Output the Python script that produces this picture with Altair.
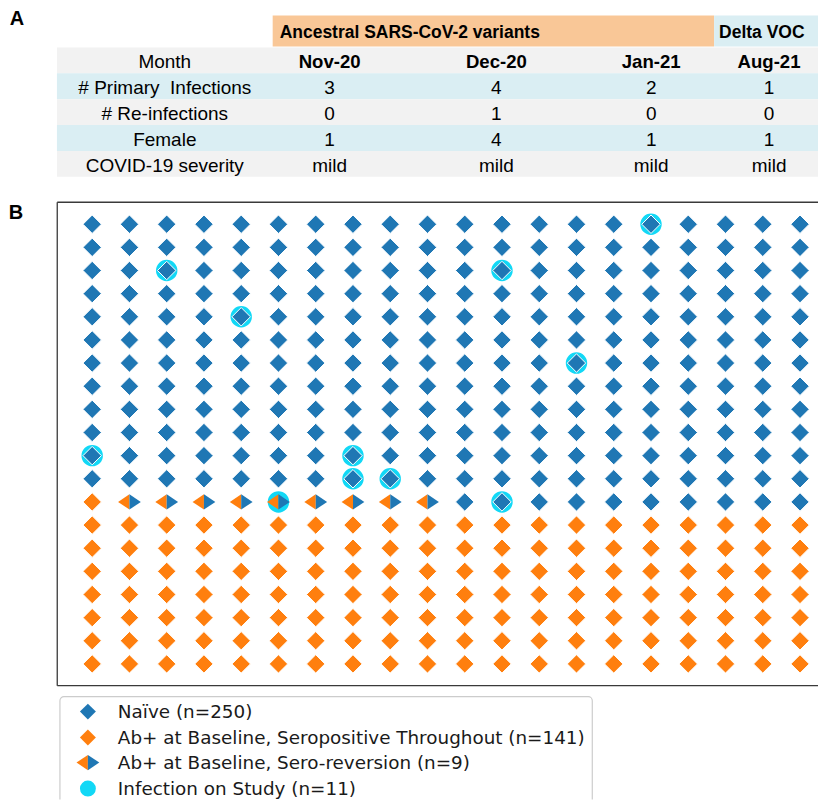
import altair as alt
import pandas as pd

# ---------------- data ----------------
variant_groups = ["Ancestral SARS-CoV-2 variants", "Delta VOC"]
row_labels = ["Month", "# Primary\u00a0 Infections", "# Re-infections", "Female", "COVID-19 severity"]
months = ["Nov-20", "Dec-20", "Jan-21", "Aug-21"]
primary_infections = [3, 4, 2, 1]
re_infections = [0, 1, 0, 0]
female = [1, 4, 1, 1]
severity = ["mild", "mild", "mild", "mild"]

# N = naive, P = Ab+ seropositive throughout, R = Ab+ sero-reversion
grid_rows = (["N" * 20] * 12
             + ["P" + "R" * 9 + "N" * 10]
             + ["P" * 20] * 7)
infections = [(0, 15), (2, 2), (2, 11), (4, 4), (6, 13), (10, 0), (10, 7),
              (11, 7), (11, 8), (12, 5), (12, 11)]

legend_labels = ["Naïve (n=250)",
                 "Ab+ at Baseline, Seropositive Throughout (n=141)",
                 "Ab+ at Baseline, Sero-reversion (n=9)",
                 "Infection on Study (n=11)"]
panel_labels = ["A", "B"]

# ---------------- style / layout ----------------
BLUE = "#1f77b4"
ORANGE = "#ff7f0e"
CYAN = "#12d8f6"
PEACH = "#f9c797"
LIGHTBLUE = "#daeef3"
GRAY = "#f2f2f2"
TFONT = "Liberation Sans"
LFONT = "DejaVu Sans"

W = 811
TABLE_H, GRID_H, LEG_H = 182, 500, 110

col_x = [157, 322, 489, 644, 762]
row_top, row_h = 39, 25.9
header_top, header_bot = 7, 38
group_spans = [(265, 707), (707, W)]
group_text_x = [272, 712]
table_left = 49

LEFT_HALF = "M -1.2 0 L 0 -0.8 L 0 0.8 Z"
RIGHT_HALF = "M 1.2 0 L 0 -0.8 L 0 0.8 Z"

# ---------------- table (panel A) ----------------
tx = alt.Scale(domain=[0, W], nice=False, zero=False)
ty = alt.Scale(domain=[0, TABLE_H], nice=False, zero=False, reverse=True)

bg = []
for i, (a, b) in enumerate(group_spans):
    bg.append(dict(x=a, x2=b, y=header_top, y2=header_bot, fill=[PEACH, LIGHTBLUE][i]))
for i in range(len(row_labels)):
    bg.append(dict(x=table_left, x2=W, y=row_top + row_h * i, y2=row_top + row_h * (i + 1),
                   fill=[GRAY, LIGHTBLUE][i % 2]))
bg = pd.DataFrame(bg)

rect_layer = alt.Chart(bg).mark_rect().encode(
    x=alt.X("x:Q", scale=tx, axis=None), x2="x2:Q",
    y=alt.Y("y:Q", scale=ty, axis=None), y2="y2:Q",
    color=alt.Color("fill:N", scale=None),
)

head = pd.DataFrame(dict(x=group_text_x, y=[(header_top + header_bot) / 2] * 2, text=variant_groups))
head_layer = alt.Chart(head).mark_text(align="left", baseline="middle", dy=2.5, font=TFONT,
                                       fontSize=17.5, fontWeight="bold", color="black").encode(
    x=alt.X("x:Q", scale=tx, axis=None), y=alt.Y("y:Q", scale=ty, axis=None), text="text:N")

cells = []
values = [months, primary_infections, re_infections, female, severity]
for i, lab in enumerate(row_labels):
    yc = row_top + row_h * (i + 0.5)
    cells.append(dict(x=col_x[0], y=yc, text=lab, bold=False))
    for j, v in enumerate(values[i]):
        cells.append(dict(x=col_x[j + 1], y=yc, text=str(v), bold=(i == 0)))
cells = pd.DataFrame(cells)

cell_plain = alt.Chart(cells[~cells.bold]).mark_text(
    align="center", baseline="middle", dy=2, font=TFONT, fontSize=19, color="black").encode(
    x=alt.X("x:Q", scale=tx, axis=None), y=alt.Y("y:Q", scale=ty, axis=None), text="text:N")
cell_bold = alt.Chart(cells[cells.bold]).mark_text(
    align="center", baseline="middle", dy=2, font=TFONT, fontSize=18.6, fontWeight="bold",
    color="black").encode(
    x=alt.X("x:Q", scale=tx, axis=None), y=alt.Y("y:Q", scale=ty, axis=None), text="text:N")

label_a = alt.Chart(pd.DataFrame(dict(t=[panel_labels[0]]))).mark_text(
    align="center", baseline="alphabetic", font=TFONT, fontSize=20, fontWeight="bold",
    color="black").encode(x=alt.value(9), y=alt.value(17), text="t:N")

table = alt.layer(rect_layer, head_layer, cell_plain, cell_bold, label_a).properties(
    width=W, height=TABLE_H)

# ---------------- dot grid (panel B) ----------------
pts = pd.DataFrame([dict(row=r, col=c, status=s)
                    for r, line in enumerate(grid_rows) for c, s in enumerate(line)])
inf = pd.DataFrame(infections, columns=["row", "col"])

x_lo, x_hi = -2.260, (W - 84.3) / 37.3
gx = alt.Scale(domain=[x_lo, x_hi], nice=False, zero=False)
gy = alt.Scale(domain=[-1.4674, 20.112], nice=False, zero=False, reverse=True)

frame = pd.DataFrame(dict(x=[-0.938, -0.938, -0.938], x2=[x_hi, x_hi, -0.938],
                          y=[-0.95, 19.94, -0.95], y2=[-0.95, 19.94, 19.94]))
frame_layer = alt.Chart(frame).mark_rule(color="#3a3a3a", strokeWidth=1.3).encode(
    x=alt.X("x:Q", scale=gx, axis=None), x2="x2:Q",
    y=alt.Y("y:Q", scale=gy, axis=None), y2="y2:Q")

circ_layer = alt.Chart(inf).mark_point(shape="circle", filled=True, size=460, opacity=1,
                                        color=CYAN).encode(
    x=alt.X("col:Q", scale=gx, axis=None), y=alt.Y("row:Q", scale=gy, axis=None))

diam_layer = alt.Chart(pts[pts.status.isin(["N", "P"])]).mark_point(
    shape="diamond", filled=True, size=340, opacity=1, stroke="white", strokeWidth=1).encode(
    x=alt.X("col:Q", scale=gx, axis=None), y=alt.Y("row:Q", scale=gy, axis=None),
    color=alt.Color("status:N", scale=alt.Scale(domain=["N", "P"], range=[BLUE, ORANGE]),
                    legend=None))

half = pts[pts.status == "R"]
left_layer = alt.Chart(half).mark_point(shape=LEFT_HALF, filled=True, size=361, opacity=1,
                                        color=ORANGE).encode(
    x=alt.X("col:Q", scale=gx, axis=None), y=alt.Y("row:Q", scale=gy, axis=None))
right_layer = alt.Chart(half).mark_point(shape=RIGHT_HALF, filled=True, size=361, opacity=1,
                                         color=BLUE).encode(
    x=alt.X("col:Q", scale=gx, axis=None), y=alt.Y("row:Q", scale=gy, axis=None))

label_b = alt.Chart(pd.DataFrame(dict(t=[panel_labels[1]]))).mark_text(
    align="center", baseline="alphabetic", font=TFONT, fontSize=20, fontWeight="bold",
    color="black").encode(x=alt.value(8), y=alt.value(28.5), text="t:N")

grid = alt.layer(frame_layer, circ_layer, diam_layer, left_layer, right_layer,
                 label_b).properties(width=W, height=GRID_H)

# ---------------- legend ----------------
lx = alt.Scale(domain=[0, W], nice=False, zero=False)
ly = alt.Scale(domain=[0, LEG_H], nice=False, zero=False, reverse=True)
leg_sym_x, leg_text_x = 80, 110
leg_y = [22, 48, 73, 99]

box = pd.DataFrame(dict(x=[52], x2=[585], y=[7], y2=[LEG_H + 20]))
box_layer = alt.Chart(box).mark_rect(fill="white", stroke="#cccccc", strokeWidth=1.2,
                                     cornerRadius=4, clip=True).encode(
    x=alt.X("x:Q", scale=lx, axis=None), x2="x2:Q",
    y=alt.Y("y:Q", scale=ly, axis=None), y2="y2:Q")

leg = pd.DataFrame(dict(i=range(4), label=legend_labels, y=leg_y))
leg["xs"] = leg_sym_x
leg["xt"] = leg_text_x


def leg_sym(idx, **kw):
    return alt.Chart(leg[leg.i == idx]).mark_point(filled=True, opacity=1, **kw).encode(
        x=alt.X("xs:Q", scale=lx, axis=None), y=alt.Y("y:Q", scale=ly, axis=None))


sym_layers = [
    leg_sym(0, shape="diamond", size=256, color=BLUE),
    leg_sym(1, shape="diamond", size=256, color=ORANGE),
    leg_sym(2, shape=LEFT_HALF, size=361, color=ORANGE),
    leg_sym(2, shape=RIGHT_HALF, size=361, color=BLUE),
    leg_sym(3, shape="circle", size=254, color=CYAN),
]
leg_text = alt.Chart(leg).mark_text(align="left", baseline="middle", font=LFONT, fontSize=18.4,
                                    color="#1a1a1a").encode(
    x=alt.X("xt:Q", scale=lx, axis=None), y=alt.Y("y:Q", scale=ly, axis=None), text="label:N")

legend = alt.layer(box_layer, *sym_layers, leg_text).properties(width=W, height=LEG_H)

chart = alt.vconcat(table, grid, legend, spacing=0, bounds="flush", padding=0).configure_view(
    stroke=None).properties(background="white")

chart.save("out.html", embed_options={"renderer": "svg", "actions": False})
